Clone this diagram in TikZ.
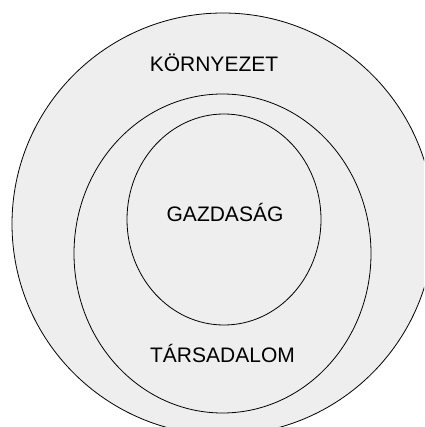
\documentclass[tikz,border=0pt]{standalone}
\usepackage{fontspec}
\setmainfont{Liberation Sans}
\usetikzlibrary{positioning}
\definecolor{ringgrey}{HTML}{EEEEEE}

\begin{document}
\begin{tikzpicture}[x=1pt, y=-1pt,
    ring/.style={draw=black, fill=ringgrey, line width=0.8pt},
    label/.style={anchor=base, inner sep=0pt, font=\fontsize{21}{25}\selectfont}]
  \useasboundingbox (0,0) rectangle (424,427);
  \clip (0,0) rectangle (424,427);
  % rings
  \draw[ring] (223,224) circle[radius=211];
  \draw[ring] (222.5,253.5) ellipse[x radius=148.5, y radius=159.5];
  \draw[ring] (224,219.5) ellipse[x radius=97, y radius=105.5];
  % labels
  \node[label] (env) at (214,72) {KÖRNYEZET};
  \node[label] (econ) at (225,221) {GAZDASÁG};
  \node[label] (soc) at (222.5,362) {TÁRSADALOM};
\end{tikzpicture}
\end{document}
